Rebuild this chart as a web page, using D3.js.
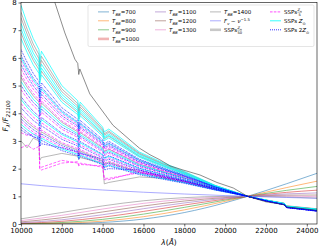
<!DOCTYPE html>
<html>
<head>
<meta charset="utf-8">
<script src="https://d3js.org/d3.v7.min.js"></script>
<style>
  body { margin: 0; background: #fff; }
  svg { display: block; font-family: "DejaVu Sans", sans-serif; }
</style>
</head>
<body>
<svg id="chart" width="319" height="249"></svg>
<script>
"use strict";

// ---- data ----
var xTicks = [10000, 12000, 14000, 16000, 18000, 20000, 22000, 24000];
var yTicks = [0, 1, 2, 3, 4, 5, 6, 7, 8];

// blackbody curves, normalised at 21100 A
var bbWavelengths = [10000, 12000, 14000, 16000, 18000, 20000, 21100, 22000, 23000, 24500];
var bbTemps = [700, 800, 900, 1000, 1100, 1200, 1300, 1400];
var bb700  = [0.001, 0.010, 0.056, 0.179, 0.413, 0.765, 1, 1.208, 1.452, 1.831];
var bb800  = [0.003, 0.026, 0.103, 0.264, 0.510, 0.818, 1, 1.150, 1.314, 1.547];
var bb900  = [0.009, 0.054, 0.167, 0.357, 0.600, 0.862, 1, 1.106, 1.215, 1.357];
var bb1000 = [0.022, 0.096, 0.245, 0.454, 0.684, 0.898, 1, 1.073, 1.142, 1.222];
var bb1100 = [0.043, 0.152, 0.335, 0.552, 0.760, 0.929, 1, 1.047, 1.086, 1.123];
var bb1200 = [0.076, 0.225, 0.435, 0.650, 0.830, 0.955, 1, 1.024, 1.041, 1.046];
var bb1300 = [0.123, 0.313, 0.541, 0.746, 0.893, 0.977, 1, 1.006, 1.005, 0.986];
var bb1400 = [0.186, 0.415, 0.653, 0.839, 0.952, 0.998, 1, 0.992, 0.974, 0.937];
var powerLaw = [1.453, 1.326, 1.228, 1.148, 1.083, 1.027, 1, 0.979, 0.958, 0.928];

// SSP spectra, sampled on one wavelength grid
var wavelengths = [10000, 10300, 10600, 10880, 10920, 11000, 12000, 12780, 12830, 12900, 14000,
                   14080, 14300, 15800, 17000, 18000, 19500, 21100, 22000, 22900, 23000, 24500];

var grayZ50Spectra = [
  [7.65, 7.04, 6.5, 6.12, 5.69, 6.06, 4.88, 4.35, 4.09, 4.31, 3.43, 3.26, 3.36, 2.56, 2.17, 1.88, 1.39, 1, 0.87, 0.75, 0.66, 0.55],
  [7.45, 6.86, 6.34, 5.97, 5.55, 5.91, 4.78, 4.26, 4.0, 4.22, 3.38, 3.21, 3.31, 2.53, 2.15, 1.86, 1.39, 1, 0.85, 0.73, 0.63, 0.52],
  [6.9, 6.37, 5.91, 5.58, 5.19, 5.52, 4.5, 4.03, 3.79, 3.99, 3.23, 3.07, 3.17, 2.44, 2.09, 1.82, 1.37, 1, 0.86, 0.74, 0.65, 0.54],
  [5.3, 4.94, 4.63, 4.41, 4.1, 4.37, 3.67, 3.33, 3.13, 3.3, 2.75, 2.61, 2.7, 2.16, 1.89, 1.68, 1.31, 1, 0.86, 0.74, 0.64, 0.53],
  [3.9, 3.68, 3.5, 3.36, 3.12, 3.33, 2.89, 2.67, 2.51, 2.64, 2.28, 2.17, 2.23, 1.88, 1.68, 1.53, 1.25, 1, 0.86, 0.74, 0.64, 0.54],
  [3.0, 2.75, 3.1, 3.0, 2.3, 2.4, 2.55, 2.45, 2.35, 2.4, 2.2, 1.45, 1.5, 1.7, 1.65, 1.5, 1.28, 1, 0.86, 0.74, 0.63, 0.53]
];

var magentaZ5Spectra = [
  [5.9, 5.48, 5.11, 4.85, 4.51, 4.8, 3.99, 3.6, 3.38, 3.56, 2.93, 2.78, 2.87, 2.27, 1.97, 1.73, 1.34, 1, 0.85, 0.72, 0.62, 0.51],
  [5.6, 5.21, 4.87, 4.63, 4.31, 4.58, 3.83, 3.47, 3.26, 3.44, 2.84, 2.7, 2.78, 2.22, 1.93, 1.71, 1.32, 1, 0.85, 0.71, 0.62, 0.5],
  [5.4, 5.04, 4.72, 4.49, 4.18, 4.45, 3.72, 3.38, 3.18, 3.35, 2.78, 2.64, 2.72, 2.18, 1.9, 1.69, 1.32, 1, 0.84, 0.72, 0.61, 0.5],
  [4.85, 4.54, 4.27, 4.08, 3.79, 4.04, 3.42, 3.13, 2.94, 3.1, 2.6, 2.47, 2.55, 2.07, 1.83, 1.63, 1.29, 1, 0.85, 0.71, 0.62, 0.51],
  [4.35, 4.09, 3.86, 3.7, 3.44, 3.66, 3.14, 2.89, 2.72, 2.86, 2.44, 2.32, 2.39, 1.97, 1.75, 1.58, 1.27, 1, 0.84, 0.72, 0.61, 0.5],
  [4.0, 3.77, 3.57, 3.43, 3.19, 3.4, 2.94, 2.72, 2.56, 2.69, 2.32, 2.2, 2.27, 1.9, 1.7, 1.54, 1.25, 1, 0.85, 0.71, 0.62, 0.51],
  [3.7, 3.5, 3.32, 3.2, 2.98, 3.17, 2.77, 2.57, 2.42, 2.54, 2.21, 2.1, 2.17, 1.83, 1.65, 1.5, 1.24, 1, 0.84, 0.71, 0.61, 0.5],
  [3.3, 3.2, 3.25, 3.15, 2.0, 2.05, 2.3, 2.2, 2.1, 2.15, 2.1, 1.65, 1.65, 1.85, 1.75, 1.55, 1.3, 1, 0.85, 0.72, 0.61, 0.5],
  [2.75, 2.85, 2.7, 2.8, 2.0, 1.95, 2.2, 2.25, 2.12, 2.2, 2.05, 1.6, 1.6, 1.9, 1.7, 1.55, 1.28, 1, 0.84, 0.71, 0.61, 0.5]
];

var cyanZsunSpectra = [
  [7.9, 7.26, 6.7, 6.3, 5.86, 6.24, 5.0, 4.45, 4.18, 4.4, 3.5, 3.33, 3.43, 2.6, 2.2, 1.9, 1.4, 1, 0.86, 0.74, 0.64, 0.53],
  [7.25, 6.68, 6.18, 5.83, 5.42, 5.77, 4.68, 4.18, 3.93, 4.14, 3.32, 3.15, 3.25, 2.5, 2.13, 1.85, 1.38, 1, 0.86, 0.72, 0.62, 0.5],
  [7.05, 6.51, 6.03, 5.69, 5.29, 5.63, 4.58, 4.1, 3.85, 4.06, 3.27, 3.11, 3.2, 2.46, 2.1, 1.83, 1.37, 1, 0.84, 0.71, 0.61, 0.49],
  [6.7, 6.2, 5.75, 5.44, 5.06, 5.39, 4.4, 3.95, 3.71, 3.91, 3.17, 3.01, 3.11, 2.41, 2.06, 1.8, 1.36, 1, 0.85, 0.73, 0.63, 0.52],
  [6.0, 5.57, 5.2, 4.93, 4.58, 4.88, 4.04, 3.65, 3.43, 3.61, 2.96, 2.81, 2.9, 2.29, 1.98, 1.74, 1.34, 1, 0.86, 0.73, 0.64, 0.53],
  [5.15, 4.81, 4.51, 4.3, 4.0, 4.26, 3.59, 3.26, 3.06, 3.23, 2.7, 2.57, 2.65, 2.13, 1.87, 1.66, 1.31, 1, 0.85, 0.73, 0.63, 0.52],
  [4.5, 4.22, 3.98, 3.81, 3.54, 3.77, 3.23, 2.96, 2.78, 2.93, 2.49, 2.37, 2.44, 2.0, 1.77, 1.59, 1.28, 1, 0.86, 0.73, 0.63, 0.52],
  [3.6, 3.41, 3.25, 3.13, 2.91, 3.1, 2.71, 2.52, 2.37, 2.49, 2.17, 2.06, 2.13, 1.81, 1.63, 1.49, 1.23, 1, 0.85, 0.72, 0.62, 0.51]
];

var blueZ2Spectra = [
  [6.3, 5.84, 5.44, 5.15, 4.79, 5.1, 4.2, 3.78, 3.55, 3.74, 3.05, 2.9, 2.99, 2.34, 2.02, 1.77, 1.35, 1, 0.84, 0.7, 0.6, 0.47],
  [6.1, 5.66, 5.28, 5.0, 4.65, 4.95, 4.09, 3.69, 3.47, 3.65, 2.99, 2.84, 2.93, 2.31, 1.99, 1.75, 1.34, 1, 0.83, 0.7, 0.61, 0.48],
  [5.75, 5.35, 4.99, 4.74, 4.41, 4.69, 3.91, 3.54, 3.33, 3.5, 2.89, 2.75, 2.83, 2.24, 1.95, 1.72, 1.33, 1, 0.83, 0.69, 0.6, 0.47],
  [5.0, 4.68, 4.39, 4.19, 3.9, 4.15, 3.5, 3.2, 3.01, 3.17, 2.65, 2.52, 2.6, 2.1, 1.85, 1.65, 1.3, 1, 0.83, 0.7, 0.6, 0.48],
  [4.6, 4.32, 4.07, 3.89, 3.62, 3.85, 3.28, 3.01, 2.83, 2.98, 2.52, 2.39, 2.47, 2.02, 1.79, 1.6, 1.28, 1, 0.84, 0.7, 0.6, 0.47],
  [4.2, 3.96, 3.74, 3.59, 3.34, 3.55, 3.06, 2.82, 2.65, 2.79, 2.39, 2.27, 2.34, 1.94, 1.73, 1.56, 1.26, 1, 0.83, 0.69, 0.59, 0.46],
  [3.8, 3.59, 3.41, 3.28, 3.05, 3.25, 2.83, 2.62, 2.46, 2.59, 2.25, 2.14, 2.2, 1.85, 1.66, 1.51, 1.24, 1, 0.83, 0.7, 0.6, 0.47],
  [3.5, 3.32, 3.16, 3.05, 2.84, 3.02, 2.65, 2.47, 2.32, 2.45, 2.14, 2.03, 2.1, 1.78, 1.61, 1.47, 1.23, 1, 0.83, 0.7, 0.59, 0.47],
  [3.4, 3.25, 3.15, 3.1, 2.8, 2.9, 2.75, 2.6, 2.45, 2.55, 2.35, 1.95, 2.0, 1.95, 1.7, 1.55, 1.28, 1, 0.84, 0.7, 0.6, 0.48]
];

// the dark single spectrum (not in legend)
var darkWavelengths = [11300, 11660, 12150, 12640, 12780, 12830, 12880, 13370, 14500, 15470, 15800, 16320,
                       16800, 17300, 17940, 18770, 19600, 20400, 21100, 22000, 22900, 23000, 24500];
var darkValues = [9.0, 8.0, 6.9, 5.95, 5.8, 5.4, 5.6, 4.7, 3.57, 2.95, 2.74, 2.5,
                  2.32, 2.1, 1.95, 1.77, 1.5, 1.3, 1.0, 0.8, 0.7, 0.62, 0.5];

// ---- drawing ----
var svg = d3.select("#chart");
var m = { left: 21, right: 317, top: 2.5, bottom: 224 };

var x = d3.scaleLinear().domain([10000, 24500]).range([m.left, m.right]);
var y = d3.scaleLinear().domain([0, 8]).range([m.bottom, m.top]);

svg.append("defs").append("clipPath").attr("id", "plot-clip")
  .append("rect")
  .attr("x", m.left).attr("y", m.top)
  .attr("width", m.right - m.left).attr("height", m.bottom - m.top);

var plot = svg.append("g").attr("clip-path", "url(#plot-clip)");

var tab10 = ["#1f77b4", "#ff7f0e", "#2ca02c", "#d62728", "#9467bd", "#8c564b", "#e377c2", "#7f7f7f"];
var bbSeries = [bb700, bb800, bb900, bb1000, bb1100, bb1200, bb1300, bb1400];

var smooth = d3.line()
  .x(function (d, i) { return x(bbWavelengths[i]); })
  .y(function (d) { return y(d); })
  .curve(d3.curveMonotoneX);

bbSeries.forEach(function (vals, k) {
  plot.append("path")
    .attr("d", smooth(vals))
    .attr("fill", "none")
    .attr("stroke", tab10[k])
    .attr("stroke-opacity", 0.7)
    .attr("stroke-width", 0.8);
});

plot.append("path")
  .attr("d", smooth(powerLaw))
  .attr("fill", "none")
  .attr("stroke", "#7b7bff")
  .attr("stroke-opacity", 0.8)
  .attr("stroke-width", 0.8);

var sspLine = d3.line()
  .x(function (d, i) { return x(wavelengths[i]); })
  .y(function (d) { return y(d); });

var families = [
  { rows: grayZ50Spectra, color: "#9a9a9a", dash: null, width: 0.7 },
  { rows: magentaZ5Spectra, color: "#ff00ff", dash: "3,1.4", width: 0.6 },
  { rows: cyanZsunSpectra, color: "#00ffff", dash: null, width: 0.7 },
  { rows: blueZ2Spectra, color: "#0000ff", dash: "0.9,0.9", width: 0.75 }
];

families.forEach(function (f) {
  plot.append("g").selectAll("path")
    .data(f.rows)
    .join("path")
    .attr("d", sspLine)
    .attr("fill", "none")
    .attr("stroke", f.color)
    .attr("stroke-width", f.width)
    .attr("stroke-dasharray", f.dash);
});

var darkLine = d3.line()
  .x(function (d, i) { return x(darkWavelengths[i]); })
  .y(function (d) { return y(d); });

plot.append("path")
  .attr("d", darkLine(darkValues))
  .attr("fill", "none")
  .attr("stroke", "#404040")
  .attr("stroke-width", 0.6);

// axes
var xAxis = svg.append("g")
  .attr("transform", "translate(0," + m.bottom + ")")
  .call(d3.axisBottom(x).tickValues(xTicks).tickSize(2.5).tickPadding(1.8).tickFormat(d3.format("d")));
var yAxis = svg.append("g")
  .attr("transform", "translate(" + m.left + ",0)")
  .call(d3.axisLeft(y).tickValues(yTicks).tickSize(2.5).tickPadding(1.8));

[xAxis, yAxis].forEach(function (a) {
  a.select(".domain").remove();
  a.selectAll(".tick line").attr("stroke", "#000").attr("stroke-width", 0.6);
  a.selectAll(".tick text")
    .attr("fill", "#000")
    .style("font-size", "7px")
    .style("font-family", "'DejaVu Sans', sans-serif");
});

svg.append("rect")
  .attr("x", m.left).attr("y", m.top)
  .attr("width", m.right - m.left).attr("height", m.bottom - m.top)
  .attr("fill", "none").attr("stroke", "#000").attr("stroke-width", 0.6);

// rich text helper: parts = [{t, i, sub, sup}]
function richText(g, px, py, parts, size, anchor) {
  var t = g.append("text")
    .attr("x", px).attr("y", py)
    .attr("font-size", size)
    .attr("fill", "#000")
    .attr("text-anchor", anchor || "start");
  var shift = 0;
  parts.forEach(function (p) {
    var want = p.sub ? size * 0.3 : (p.sup ? -size * 0.4 : 0);
    var s = t.append("tspan").text(p.t).attr("dy", want - shift);
    shift = want;
    if (p.i) s.attr("font-style", "italic");
    if (p.sub || p.sup) s.attr("font-size", size * 0.7);
  });
  return t;
}

// axis labels
richText(svg, 169, 245, [{ t: "λ", i: true }, { t: "(" }, { t: "Å", i: true }, { t: ")" }], 7.5, "middle");

var yl = svg.append("g").attr("transform", "translate(8,116) rotate(-90)");
richText(yl, 0, 0, [{ t: "F", i: true }, { t: "λ", i: true, sub: true }, { t: "/" },
  { t: "F", i: true }, { t: "21100", i: true, sub: true }], 7.5, "middle");

// legend
var legend = svg.append("g");
legend.append("rect")
  .attr("x", 88).attr("y", 5).attr("width", 226).attr("height", 41.5)
  .attr("rx", 1.5)
  .attr("fill", "#fff").attr("fill-opacity", 0.8)
  .attr("stroke", "#d4d4d4").attr("stroke-width", 0.6);

var rowY = [12.4, 21.3, 30.3, 39.4];
var colX = [98, 155, 210, 270];
var fs = 5.5;

function handle(cx, cy, color, width, opacity, dash) {
  legend.append("line")
    .attr("x1", cx).attr("x2", cx + 11).attr("y1", cy).attr("y2", cy)
    .attr("stroke", color).attr("stroke-width", width)
    .attr("stroke-opacity", opacity)
    .attr("stroke-dasharray", dash);
}

var entries = [];
bbTemps.forEach(function (T, k) {
  entries.push({
    color: tab10[k], width: k === 3 ? 2.6 : 0.8, opacity: k === 3 ? 0.35 : 0.7,
    parts: [{ t: "T", i: true }, { t: "BB", i: true, sub: true }, { t: "=" + T }]
  });
});
entries.push({ color: "#7b7bff", width: 0.8, opacity: 0.8,
  parts: [{ t: "F", i: true }, { t: "ν", i: true, sub: true }, { t: " ~ " }, { t: "ν", i: true }, { t: "−1.5", sup: true }] });
entries.push({ color: "#c8c8c8", width: 2.6, opacity: 1, frac: "50" });
entries.push({ color: "#ff00ff", width: 0.7, opacity: 1, dash: "2.6,1.2", frac: "5" });
entries.push({ color: "#00ffff", width: 0.8, opacity: 1,
  parts: [{ t: "SSPs " }, { t: "Z", i: true }, { t: "⊙", sub: true }] });
entries.push({ color: "#0000ff", width: 0.8, opacity: 1, dash: "1,1",
  parts: [{ t: "SSPs 2" }, { t: "Z", i: true }, { t: "⊙", sub: true }] });

// column-major placement: 4 + 3 + 3 + 3
var slots = [[0, 0], [0, 1], [0, 2], [0, 3], [1, 0], [1, 1], [1, 2], [2, 0], [2, 1], [2, 2], [3, 0], [3, 1], [3, 2]];
entries.forEach(function (e, k) {
  var cx = colX[slots[k][0]], cy = rowY[slots[k][1]];
  handle(cx, cy - 0.5, e.color, e.width, e.opacity, e.dash);
  var tx = cx + 14, ty = cy + 1.6;
  if (e.frac) {
    var lead = richText(legend, tx, ty, [{ t: "SSPs " }], fs);
    var fx = tx + lead.node().getComputedTextLength() + 2.6;
    richText(legend, fx, cy - 1.1, [{ t: "Z", i: true }, { t: "⊙", sub: true }], 3.6, "middle");
    legend.append("line")
      .attr("x1", fx - 2.3).attr("x2", fx + 2.3).attr("y1", cy - 0.2).attr("y2", cy - 0.2)
      .attr("stroke", "#000").attr("stroke-width", 0.3);
    richText(legend, fx, cy + 3.4, [{ t: e.frac }], 3.6, "middle");
  } else {
    richText(legend, tx, ty, e.parts, fs);
  }
});
</script>
</body>
</html>
